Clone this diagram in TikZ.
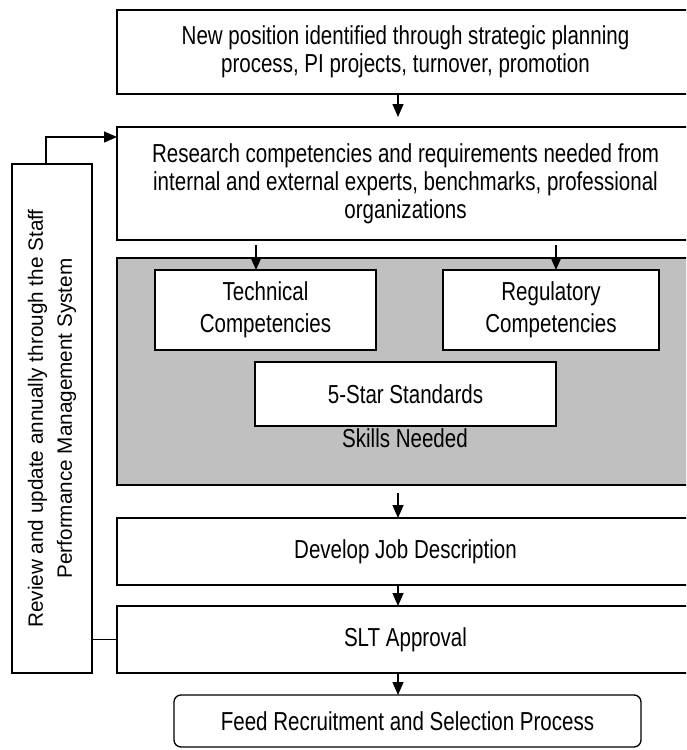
\documentclass[tikz,border=0pt]{standalone}
\usepackage{fontspec}
\setmainfont{Liberation Sans}
\newfontfamily\narrowfont[FakeStretch=0.79]{Liberation Sans}
\usetikzlibrary{arrows.meta}
\definecolor{panel}{RGB}{192,192,192}
\begin{document}
\begin{tikzpicture}[x=1pt,y=-1pt,
  box/.style={draw, line width=1.3pt, inner sep=0pt, outer sep=0pt, align=center,
    font=\narrowfont\fontsize{26}{28}\selectfont, fill=white},
  compbox/.style={box, font=\narrowfont\fontsize{26}{32}\selectfont},
  arr/.style={-{Triangle[length=13pt,width=11pt]}, line width=1.3pt},
  ln/.style={line width=1.3pt}]
\useasboundingbox (0,0) rectangle (686,750);
\clip (0,0) rectangle (686,750);
\fill[white] (0,0) rectangle (686,750);

\node[box, minimum width=577pt, minimum height=84pt] (top) at (405.5,52)
  {New position identified through strategic planning\\process, PI projects, turnover, promotion};
\node[box, minimum width=577pt, minimum height=113pt] (res) at (405.5,183.5)
  {Research competencies and requirements needed from\\internal and external experts, benchmarks, professional\\organizations};
\node[box, fill=panel, minimum width=577pt, minimum height=227pt] (gray) at (405.5,371.5) {};
\node[compbox, minimum width=221pt, minimum height=80pt] (tech) at (265.5,310) {Technical\\Competencies};
\node[compbox, minimum width=216pt, minimum height=80pt] (reg) at (551,310) {Regulatory\\Competencies};
\node[box, minimum width=301pt, minimum height=64pt] (star) at (405.5,394) {5-Star Standards};
\node[font=\narrowfont\fontsize{26}{28}\selectfont, inner sep=0pt] (skills) at (405,438) {Skills Needed};
\node[box, minimum width=577pt, minimum height=67pt] (dev) at (405.5,551.5) {Develop Job Description};
\node[box, minimum width=577pt, minimum height=67pt] (slt) at (405.5,639.5) {SLT Approval};
\node[box, rounded corners=7pt, minimum width=467pt, minimum height=52pt] (feed) at (407.5,721)
  {Feed Recruitment and Selection Process};
\node[box, minimum width=80pt, minimum height=509pt] (left) at (52,418.5) {};
\node[rotate=90, align=center, font=\fontsize{20.7}{29}\selectfont, inner sep=0pt] (lefttext) at (left.center)
  {Review and update annually through the Staff\\Performance Management System};

\coordinate (ax) at (398,0);
\coordinate (b1) at (256,0);
\coordinate (b2) at (556,0);
\coordinate (fb) at (46,137);

\draw[arr, shorten >=10pt] (top.south -| ax) -- (res.north -| ax);
\draw[arr, shorten <=5pt] (res.south -| b1) -- (tech.north -| b1);
\draw[arr, shorten <=5pt] (res.south -| b2) -- (reg.north -| b2);
\draw[arr, shorten <=8pt] (gray.south -| ax) -- (dev.north -| ax);
\draw[arr] (dev.south -| ax) -- (slt.north -| ax);
\draw[arr] (slt.south -| ax) -- (feed.north -| ax);
\draw[arr] (left.north -| fb) |- (res.west |- fb);
\draw[ln] (left.east |- slt) -- (slt.west);
\end{tikzpicture}
\end{document}
